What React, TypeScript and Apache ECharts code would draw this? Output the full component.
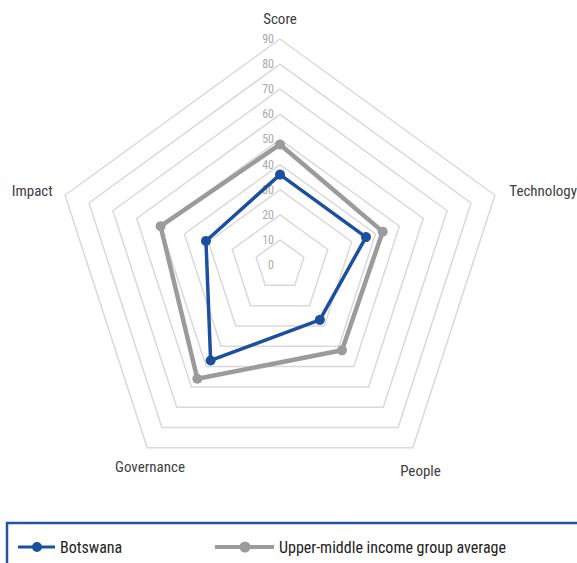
import React, { useEffect, useRef } from "react";
import * as echarts from "echarts";

const categories = ["Score", "Technology", "People", "Governance", "Impact"];
const botswana = [36, 36, 27, 47, 31];
const upperMiddle = [48, 43, 42, 56, 50];
const seriesNames = ["Botswana", "Upper-middle income group average"];
const axisMax = 90;
const axisSplits = 9;

const FONT = "'Liberation Sans Narrow', 'Roboto Condensed', Roboto, sans-serif";

// per-indicator name placement (styles only)
const nameStyles: Record<string, any> = {
  Score: {},
  Technology: { padding: [0, 0, 4, 2] },
  People: { align: "center", verticalAlign: "top", padding: [5, 0, 0, 0] },
  Governance: { align: "center", verticalAlign: "top", padding: [1, 0, 0, 21] },
  Impact: { padding: [4, 0, 0, 0] },
};

// ECharts radar runs counter-clockwise; reorder so the picture runs clockwise
const order = [0, 4, 3, 2, 1];
const reorder = (arr: any[]) => order.map((i) => arr[i]);

export default function App() {
  const ref = useRef<HTMLDivElement>(null);
  useEffect(() => {
    if (!ref.current) return;
    const chart = echarts.init(ref.current, null, { renderer: "svg" });
    const indicator = reorder(categories).map((name, i) => {
      const ind: any = { name, min: 0, max: axisMax, nameTextStyle: nameStyles[name] };
      if (i === 0) ind.axisLabel = { show: true };
      return ind;
    });
    const iconBlue = "path://M0,3.5 H37 V6.5 H0 Z M19,0 A5,5 0 1,1 19,10 A5,5 0 1,1 19,0 Z";
    const iconGray = "path://M0,3 H59 V7 H0 Z M30,-0.5 A5.5,5.5 0 1,1 30,10.5 A5.5,5.5 0 1,1 30,-0.5 Z";
    chart.setOption({
      animation: false,
      backgroundColor: "#ffffff",
      textStyle: { fontFamily: FONT },
      radar: {
        center: [280, 265],
        radius: 226,
        startAngle: 90,
        splitNumber: axisSplits,
        shape: "polygon",
        indicator,
        axisName: { color: "#404040", fontSize: 15, fontFamily: FONT },
        nameGap: 13,
        axisLine: { show: false },
        axisTick: { show: false },
        splitArea: { show: false },
        splitLine: { lineStyle: { color: "#d9d9d9", width: 1.5 } },
        axisLabel: { show: false, color: "#aaaaaa", fontSize: 12, fontFamily: FONT, margin: 6 },
      },
      legend: [
        {
          data: [{ name: seriesNames[0], icon: iconBlue }],
          left: 18,
          top: 539,
          padding: 0,
          itemWidth: 37,
          itemHeight: 10,
          textStyle: { color: "#222222", fontSize: 16, fontFamily: FONT },
        },
        {
          data: [{ name: seriesNames[1], icon: iconGray }],
          left: 215,
          top: 539,
          padding: 0,
          itemWidth: 59,
          itemHeight: 11,
          textStyle: { color: "#222222", fontSize: 16, fontFamily: FONT },
        },
      ],
      graphic: [
        {
          type: "rect",
          shape: { x: 7, y: 523, width: 620, height: 100 },
          style: { fill: "none", stroke: "#2255a4", lineWidth: 2.5 },
          silent: true,
        },
      ],
      series: [
        {
          type: "radar",
          z: 2,
          data: [
            {
              name: seriesNames[1],
              value: reorder(upperMiddle),
              symbol: "circle",
              symbolSize: 10,
              itemStyle: { color: "#9b9b9b" },
              lineStyle: { color: "#9b9b9b", width: 4.5 },
            },
          ],
        },
        {
          type: "radar",
          z: 3,
          data: [
            {
              name: seriesNames[0],
              value: reorder(botswana),
              symbol: "circle",
              symbolSize: 10,
              itemStyle: { color: "#1c4f9e" },
              lineStyle: { color: "#1c4f9e", width: 3.5 },
            },
          ],
        },
      ],
    });
    return () => chart.dispose();
  }, []);
  return (
    <div
      ref={ref}
      style={{ position: "absolute", left: 0, top: 0, width: 577, height: 563 }}
    />
  );
}
